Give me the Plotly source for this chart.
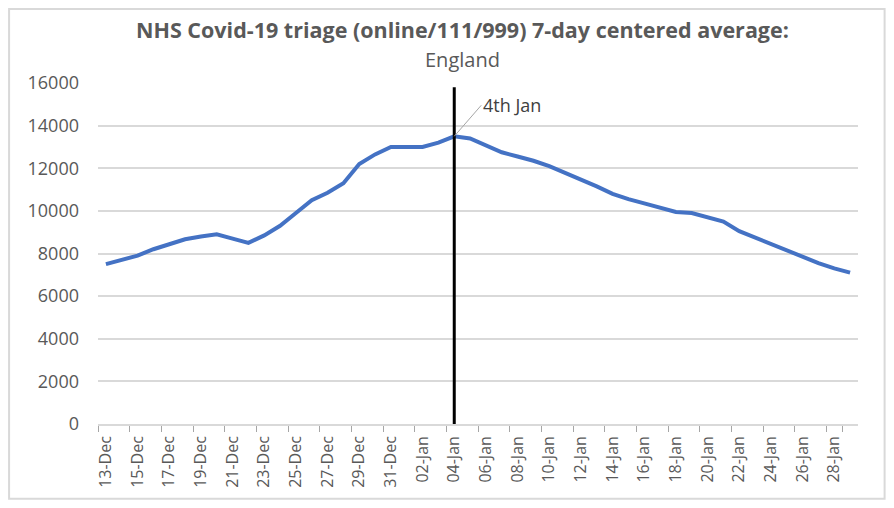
import pandas as pd
import plotly.graph_objects as go

# daily categories 13-Dec .. 29-Jan
dates = [d.strftime("%d-%b") for d in pd.date_range("2020-12-13", "2021-01-29")]

# 7-day centered average of triage counts
triage_avg = [
    7500, 7700, 7900, 8200, 8450, 8670, 8800, 8900, 8700, 8500,
    8850, 9300, 9900, 10500, 10850, 11300, 12200, 12650, 13000, 13000,
    13000, 13200, 13500, 13400, 13100, 12750, 12550, 12350, 12100, 11800,
    11500, 11150, 10800, 10550, 10350, 10150, 9950, 9900, 9700, 9500,
    9050, 8750, 8450, 8150, 7850, 7550, 7300, 7100,
]

marker_date = "04-Jan"
marker_label = "4th Jan"
marker_top = 15800

y_ticks = [0, 2000, 4000, 6000, 8000, 10000, 12000, 14000, 16000]
x_ticks = dates[::2]

title_main = "NHS Covid-19 triage (online/111/999) 7-day centered average:"
title_sub = "England"

font_name = "Open Sans"
grey = "#595959"

fig = go.Figure()

fig.add_trace(go.Scatter(
    x=dates, y=triage_avg,
    mode="lines",
    line=dict(color="#4472C4", width=4),
    showlegend=False,
))

# vertical marker line
fig.add_shape(type="line", xref="x", yref="y",
              x0=marker_date, x1=marker_date, y0=0, y1=marker_top,
              line=dict(color="black", width=3))

# label with leader line
fig.add_annotation(
    x=marker_date, y=triage_avg[dates.index(marker_date)],
    text=marker_label, showarrow=True, arrowhead=0, arrowwidth=1,
    arrowcolor="#a6a6a6", ax=27, ay=-31, xanchor="left",
    font=dict(family=font_name, size=18, color="#404040"),
)

# title as two centred lines
fig.add_annotation(
    text=f"<b>{title_main}</b>", xref="paper", yref="paper",
    x=0.479, y=1.158, xanchor="center", yanchor="middle", showarrow=False,
    font=dict(family=font_name, size=21.5, color=grey),
)
fig.add_annotation(
    text=title_sub, xref="paper", yref="paper",
    x=0.479, y=1.07, xanchor="center", yanchor="middle", showarrow=False,
    font=dict(family=font_name, size=20, color=grey),
)

# chart border (page adds an 8px body margin)
fig.add_shape(type="rect", xref="paper", yref="paper",
              x0=-0.117, x1=1.035, y0=-0.219, y1=1.217,
              line=dict(color="#d9d9d9", width=2))

fig.update_layout(
    width=878, height=492,
    margin=dict(l=90, r=28, t=75, b=76),
    paper_bgcolor="white", plot_bgcolor="white",
    font=dict(family=font_name, color=grey),
)

fig.update_xaxes(
    type="category",
    tickvals=x_ticks, ticktext=x_ticks,
    tickson="boundaries",
    tickangle=-90,
    ticks="outside", ticklen=6, tickcolor="#a6a6a6",
    ticklabelstandoff=4,
    showline=True, linecolor="#d9d9d9", linewidth=1.5,
    showgrid=False,
    tickfont=dict(size=16, color=grey),
    range=[-0.5, len(dates) - 0.5],
    automargin=False,
)

fig.update_yaxes(
    range=[0, 16000],
    tickvals=y_ticks, ticktext=[str(v) for v in y_ticks],
    showgrid=True, gridcolor="#d9d9d9", gridwidth=1.5,
    zeroline=False,
    ticks="", ticklabelstandoff=18,
    tickfont=dict(size=18, color=grey),
    automargin=False,
)

fig.write_html("out.html")
